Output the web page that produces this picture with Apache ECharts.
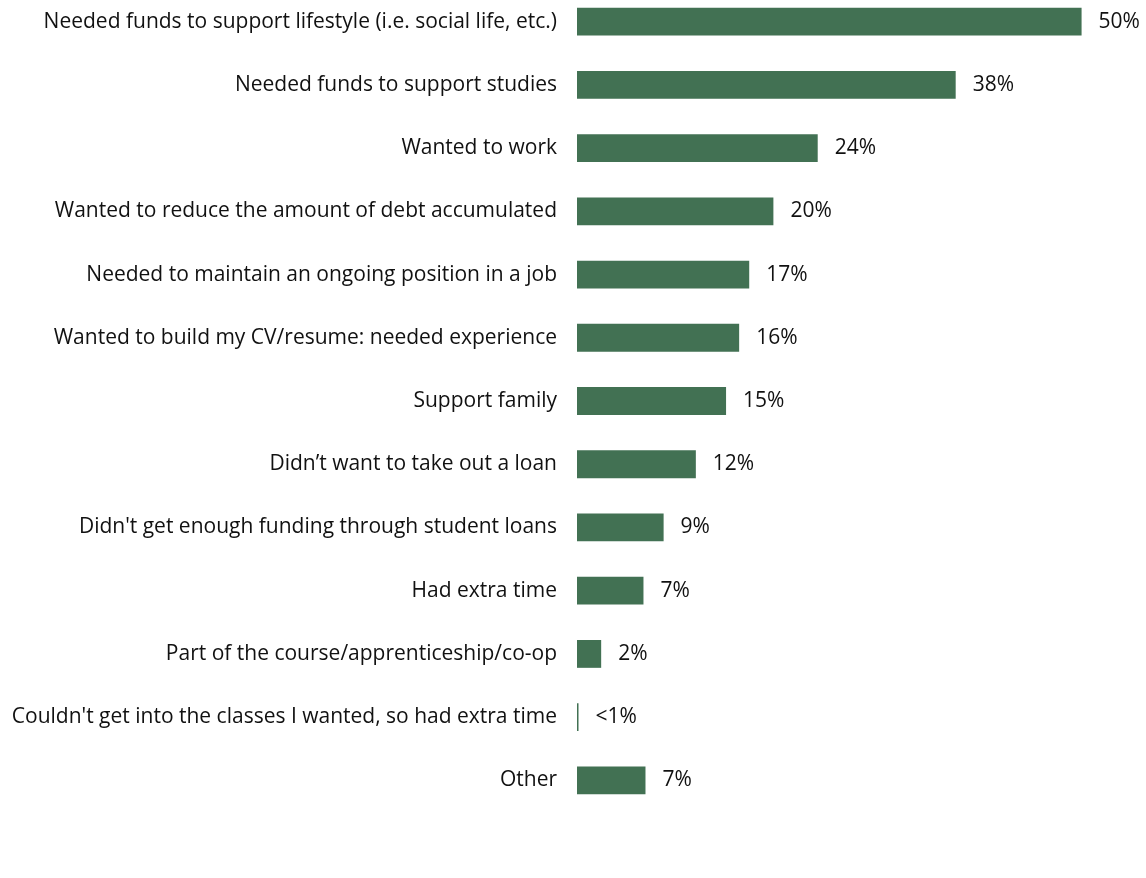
<!DOCTYPE html>
<html>
<head>
<meta charset="utf-8">
<script src="https://cdn.jsdelivr.net/npm/echarts@6/dist/echarts.min.js"></script>
<style>
  html, body { margin: 0; padding: 0; background: #ffffff; overflow: hidden; }
  #chart { width: 1146px; height: 888px; margin-top: -10px; }
</style>
</head>
<body>
<div id="chart"></div>
<script>
// Reasons for working while studying (share of respondents, %)
const categories = [
  "Needed funds to support lifestyle (i.e. social life, etc.)",
  "Needed funds to support studies",
  "Wanted to work",
  "Wanted to reduce the amount of debt accumulated",
  "Needed to maintain an ongoing position in a job",
  "Wanted to build my CV/resume: needed experience",
  "Support family",
  "Didn\u2019t want to take out a loan",
  "Didn't get enough funding through student loans",
  "Had extra time",
  "Part of the course/apprenticeship/co-op",
  "Couldn't get into the classes I wanted, so had extra time",
  "Other"
];
const values = [50.1, 37.6, 23.9, 19.5, 17.1, 16.1, 14.8, 11.8, 8.6, 6.6, 2.4, 0.15, 6.8];

const FONT = '"Open Sans", Lato, sans-serif';

function valueLabel(v) {
  return v < 1 ? '<1%' : Math.round(v) + '%';
}

const chart = echarts.init(document.getElementById('chart'), null, { renderer: 'canvas' });
chart.setOption({
  animation: false,
  backgroundColor: '#ffffff',
  grid: { left: 577, right: 5, top: 0, bottom: 66, containLabel: false },
  xAxis: {
    type: 'value',
    min: 0,
    max: 56,
    show: false
  },
  yAxis: {
    type: 'category',
    data: categories,
    inverse: true,
    axisLine: { show: false },
    axisTick: { show: false },
    splitLine: { show: false },
    axisLabel: {
      margin: 20,
      fontFamily: FONT,
      fontSize: 21,
      color: '#111111'
    }
  },
  series: [{
    type: 'bar',
    data: values,
    barCategoryGap: '56%',
    itemStyle: { color: '#427153' },
    label: {
      show: true,
      position: 'right',
      distance: 17,
      fontFamily: FONT,
      fontSize: 21,
      color: '#111111',
      formatter: p => valueLabel(p.value)
    }
  }]
});
</script>
</body>
</html>
